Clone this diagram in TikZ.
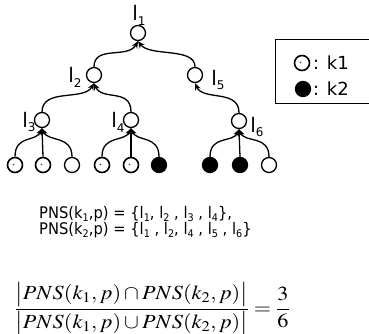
\documentclass[tikz,border=0pt]{standalone}
\usepackage{mathptmx}
\usepackage[no-math]{fontspec}
\newfontfamily\labfont{DejaVu Sans}
\newfontfamily\narrowfont[FakeStretch=0.92]{DejaVu Sans}
\usetikzlibrary{arrows.meta}

% tree label "l" with a lowered index
\newcommand\lix[1]{l\raisebox{-0.45ex}{\fontsize{12}{12}\selectfont#1}}
% the same, for the running text
\newcommand\tix[2]{#1\raisebox{-0.45ex}{\fontsize{10.5}{10.5}\selectfont#2}}

\tikzset{
  vert/.style={circle, draw, line width=1.3pt, minimum size=15pt, inner sep=0pt, fill=white},
  kone/.style={vert, line width=1.6pt,
    path picture={\fill[black!75] ([shift={(-1.5pt,0.5pt)}]path picture bounding box.center) circle (0.8pt);}},
  ktwo/.style={vert, fill=black},
  link/.style={line width=1.3pt, -{Stealth[length=7pt,width=6pt]}},
  lab/.style={font=\labfont\fontsize{20}{20}\selectfont, inner sep=0pt},
  txt/.style={font=\narrowfont\fontsize{16}{16}\selectfont, inner sep=0pt, anchor=base west},
  legtxt/.style={font=\labfont\fontsize{18}{18}\selectfont, inner sep=0pt, anchor=west},
}

\begin{document}
\begin{tikzpicture}[x=1pt,y=-1pt]
\useasboundingbox (0,0) rectangle (369,334);

% inner nodes
\node[vert] (l1) at (138,33) {};
\node[vert] (l2) at (94,75) {};
\node[vert] (l5) at (195,75) {};
\node[vert] (l3) at (42,120) {};
\node[vert] (l4) at (131,120) {};
\node[vert] (l6) at (239,121) {};

% leaves
\node[kone] (a1) at (15,165) {};
\node[kone] (a2) at (43,165) {};
\node[vert] (a3) at (72,165) {};
\node[kone] (b1) at (102,165) {};
\node[kone] (b2) at (131,165) {};
\node[ktwo] (b3) at (159,165) {};
\node[ktwo] (c1) at (210,165) {};
\node[ktwo] (c2) at (240,165) {};
\node[vert] (c3) at (269,165) {};

% node labels
\node[lab] (t1) at (139,15) {\lix{1}};
\node[lab] (t2) at (75,77) {\lix{2}};
\node[lab] (t5) at (218,80) {\lix{5}};
\node[lab] (t3) at (29,122) {\lix{3}};
\node[lab] (t4) at (118,122) {\lix{4}};
\node[lab] (t6) at (257,127) {\lix{6}};

% links between levels
\draw[link] (l2.north) .. controls +(0,-22) and +(-10,18) .. (l1.south);
\draw[link] (l5.north) .. controls +(0,-20) and +(12,16) .. (l1.south);
\draw[link] (l3.north) .. controls +(0,-24) and +(-10,18) .. (l2.south);
\draw[link] (l4.north) .. controls +(0,-24) and +(8,18) .. (l2.south);
\draw[link] (l6.north) .. controls +(0,-24) and +(8,18) .. (l5.south);

\draw[link] (a1.north) .. controls +(0,-22) and +(-6,14) .. (l3.south);
\draw[link] (a2.north) -- (l3.south);
\draw[link] (a3.north) .. controls +(0,-22) and +(6,14) .. (l3.south);
\draw[link] (b1.north) .. controls +(0,-22) and +(-6,14) .. (l4.south);
\draw[link] (b2.north) -- (l4.south);
\draw[link] (b3.north) .. controls +(0,-22) and +(6,14) .. (l4.south);
\draw[link] (c1.north) .. controls +(0,-22) and +(-6,14) .. (l6.south);
\draw[link] (c2.north) -- (l6.south);
\draw[link] (c3.north) .. controls +(0,-22) and +(6,14) .. (l6.south);

% legend
\draw[line width=1pt] (372,40) -- (275,40) -- (275,104) -- (372,104);
\node[kone] (s1) at (302,63) {};
\node[legtxt] (s1t) at (313,63) {: k1};
\node[ktwo] (s2) at (303,89) {};
\node[legtxt] (s2t) at (313,89) {: k2};

% path sets
\node[txt] (p1) at (39,218) {PNS(\tix{k}{1},p) = \{\tix{l}{1}, \tix{l}{2} , \tix{l}{3} , \tix{l}{4}\},};
\node[txt] (p2) at (39,234) {PNS(\tix{k}{2},p) = \{\tix{l}{1} , \tix{l}{2}, \tix{l}{4} , \tix{l}{5} , \tix{l}{6}\}};

% similarity ratio
\node[anchor=west, inner sep=0pt] (ratio) at (14,309)
  {\scalebox{1.11}[1]{\fontsize{20}{24}\selectfont
   $\displaystyle\frac{\bigl|PNS(k_1,p)\cap PNS(k_2,p)\bigr|}{\bigl|PNS(k_1,p)\cup PNS(k_2,p)\bigr|}=\frac{3}{6}$}};
\end{tikzpicture}
\end{document}
